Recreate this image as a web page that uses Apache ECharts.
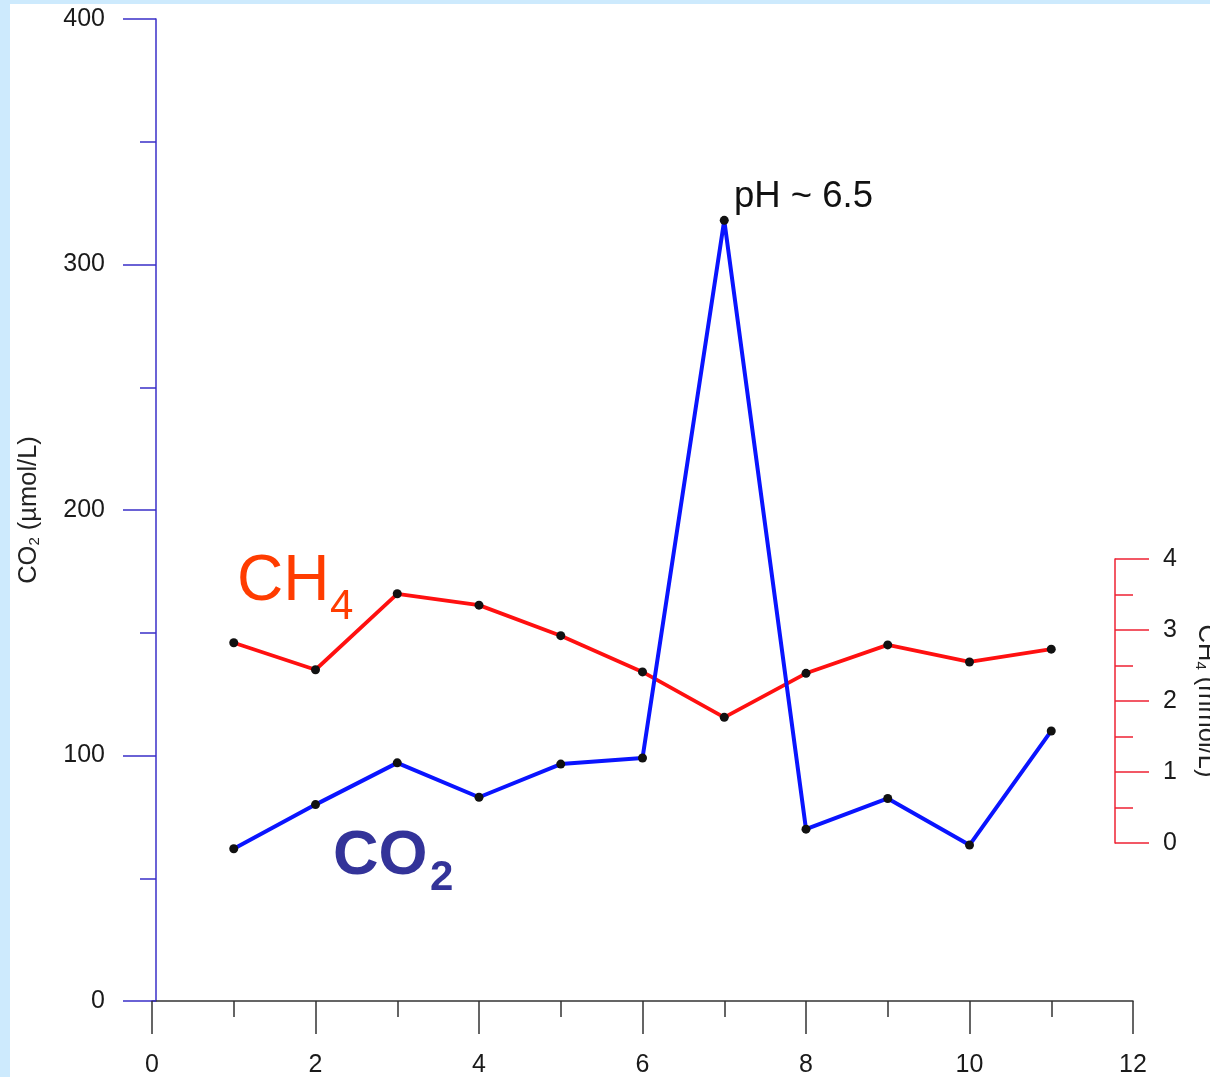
<!DOCTYPE html>
<html><head><meta charset="utf-8">
<script src="https://cdn.jsdelivr.net/npm/echarts@6/dist/echarts.min.js"></script>
<style>
html,body{margin:0;padding:0;width:1210px;height:1077px;overflow:hidden;background:#cdeafd;}
#frame{position:absolute;left:10px;top:4px;right:0;bottom:0;background:#fff;}
#chart{position:absolute;left:0;top:0;width:1210px;height:1077px;}
</style></head><body><div id="frame"></div><div id="chart"></div>
<script>
// ---- data ----
const xValues = [1, 2, 3, 4, 5, 6, 7, 8, 9, 10, 11];
const co2Values = [62, 80, 97, 83, 96.5, 99, 318, 70, 82.5, 63.5, 110];
const ch4Values = [2.82, 2.44, 3.51, 3.35, 2.92, 2.41, 1.77, 2.39, 2.79, 2.55, 2.73];
const xTickLabels = ['0', '2', '4', '6', '8', '10', '12'];
const co2TickLabels = ['0', '100', '200', '300', '400'];
const ch4TickLabels = ['0', '1', '2', '3', '4'];
const peakNote = 'pH ~ 6.5';

const FONT = "'Liberation Sans', Arial, sans-serif";
const chart = echarts.init(document.getElementById('chart'), null, {renderer: 'canvas'});

const co2Data = xValues.map((x, i) => [x, co2Values[i]]);
const ch4Data = xValues.map((x, i) => [x, ch4Values[i]]);

const option = {
  backgroundColor: 'transparent',
  animation: false,
  grid: [
    {left: 152, top: 19, width: 981, height: 982, outerBoundsMode: 'none', containLabel: false},
    {left: 152, top: 559, width: 981, height: 284, outerBoundsMode: 'none', containLabel: false}
  ],
  xAxis: [
    {
      type: 'value', gridIndex: 0, min: 0, max: 12, interval: 2,
      axisLine: {show: true, onZero: false, lineStyle: {color: '#333', width: 1.5}},
      axisTick: {show: true, length: 33, lineStyle: {color: '#333', width: 1.5}},
      minorTick: {show: true, splitNumber: 2, length: 16, lineStyle: {color: '#333', width: 1.5}},
      splitLine: {show: false}, minorSplitLine: {show: false},
      axisLabel: {margin: 52, fontSize: 25, fontFamily: FONT, color: '#1a1a1a',
        formatter: v => xTickLabels[Math.round(v / 2)]}
    },
    {type: 'value', gridIndex: 1, min: 0, max: 12, show: false,
      axisLine: {onZero: false}, splitLine: {show: false}}
  ],
  yAxis: [
    {
      type: 'value', gridIndex: 0, min: 0, max: 400, interval: 100, offset: -4,
      axisLine: {show: true, onZero: false, lineStyle: {color: '#3a2fc8', width: 1.5}},
      axisTick: {show: true, length: 33, lineStyle: {color: '#3a2fc8', width: 1.5}},
      minorTick: {show: true, splitNumber: 2, length: 16, lineStyle: {color: '#3a2fc8', width: 1.5}},
      splitLine: {show: false}, minorSplitLine: {show: false},
      axisLabel: {margin: 51, fontSize: 25, fontFamily: FONT, color: '#1a1a1a',
        formatter: v => co2TickLabels[Math.round(v / 100)]},
      name: 'CO{s|2} (µmol/L)', nameLocation: 'middle', nameGap: 114, nameRotate: 90,
      nameTextStyle: {fontSize: 25.5, fontFamily: FONT, color: '#222', lineHeight: 26,
        rich: {s: {fontSize: 15, fontFamily: FONT, color: '#222', verticalAlign: 'bottom'}}}
    },
    {
      type: 'value', gridIndex: 1, position: 'right', min: 0, max: 4, interval: 1, offset: -18,
      axisLine: {show: true, onZero: false, lineStyle: {color: '#ee2233', width: 1.5}},
      axisTick: {show: true, length: 34, lineStyle: {color: '#ee2233', width: 1.5}},
      minorTick: {show: true, splitNumber: 2, length: 18, lineStyle: {color: '#ee2233', width: 1.5}},
      splitLine: {show: false}, minorSplitLine: {show: false},
      axisLabel: {margin: 48, fontSize: 25, fontFamily: FONT, color: '#1a1a1a',
        formatter: v => ch4TickLabels[Math.round(v)]},
      name: 'CH{s|4} (mmol/L)', nameLocation: 'middle', nameGap: 78, nameRotate: -90,
      nameTextStyle: {fontSize: 25.5, fontFamily: FONT, color: '#222', lineHeight: 26,
        rich: {s: {fontSize: 15, fontFamily: FONT, color: '#222', verticalAlign: 'bottom'}}}
    }
  ],
  series: [
    {
      name: 'CH4', type: 'line', xAxisIndex: 1, yAxisIndex: 1, data: ch4Data,
      symbol: 'circle', symbolSize: 9,
      lineStyle: {color: '#ff1010', width: 3.8},
      itemStyle: {color: '#111'}, z: 2
    },
    {
      name: 'CO2', type: 'line', xAxisIndex: 0, yAxisIndex: 0, data: co2Data,
      symbol: 'circle', symbolSize: 9,
      lineStyle: {color: '#0a14ff', width: 4},
      itemStyle: {color: '#111'}, z: 3
    }
  ],
  graphic: [
    {type: 'text', x: 237, y: 550, z: 10,
      style: {text: 'CH', fontSize: 64, fontFamily: FONT, fill: '#ff3c00', align: 'left', verticalAlign: 'top'}},
    {type: 'text', x: 330, y: 586, z: 10,
      style: {text: '4', fontSize: 42, fontFamily: FONT, fill: '#ff3c00', align: 'left', verticalAlign: 'top'}},
    {type: 'text', x: 333, y: 825, z: 10,
      style: {text: 'CO', fontSize: 63, fontWeight: 'bold', fontFamily: FONT, fill: '#333399', align: 'left', verticalAlign: 'top'}},
    {type: 'text', x: 430, y: 857, z: 10,
      style: {text: '2', fontSize: 42, fontWeight: 'bold', fontFamily: FONT, fill: '#333399', align: 'left', verticalAlign: 'top'}},
    {type: 'text', x: 734, y: 178, z: 10,
      style: {text: peakNote, fontSize: 36.5, fontFamily: FONT, fill: '#111', align: 'left', verticalAlign: 'top'}}
  ]
};
chart.setOption(option);
</script></body></html>
